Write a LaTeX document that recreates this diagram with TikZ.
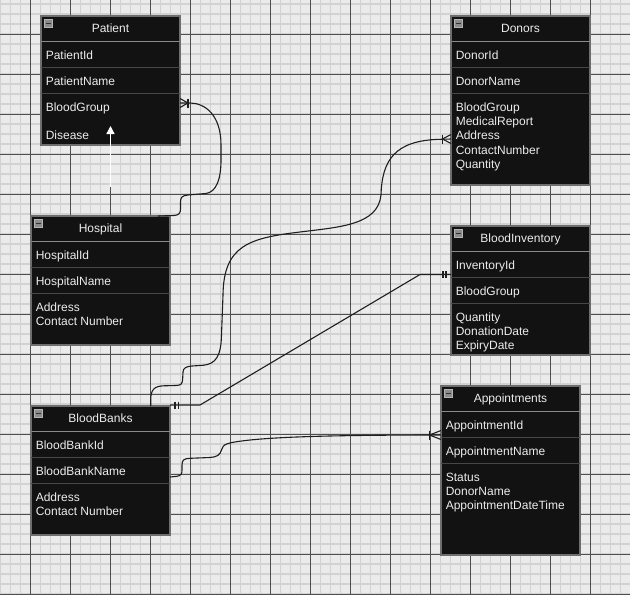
\documentclass[tikz,border=0pt]{standalone}
\usepackage{fontspec}
\setmainfont{Liberation Sans}
\usetikzlibrary{arrows.meta}
\definecolor{bgc}{HTML}{EBEBEB}
\definecolor{minorc}{HTML}{D2D2D2}
\definecolor{majorc}{HTML}{4F4F4F}
\definecolor{tblfill}{HTML}{121212}
\definecolor{tblborder}{HTML}{6E6E6E}
\definecolor{hdrc}{HTML}{8A8A8A}
\definecolor{rowc}{HTML}{474747}
\definecolor{txtc}{HTML}{ECECEC}
\definecolor{connc}{HTML}{1E1E1E}
\definecolor{minusfill}{HTML}{8C8C8C}
\definecolor{minusdraw}{HTML}{B4B4B4}
\tikzset{
  minorl/.style={draw=minorc, line width=1.4pt},
  majorl/.style={draw=majorc, line width=0.9pt},
  tbl/.style={rectangle, fill=tblfill, draw=tblborder, line width=1.1pt, minimum width=139pt, inner sep=0pt, outer sep=0pt},
  hdrsep/.style={draw=hdrc, line width=1pt},
  rowsep/.style={draw=rowc, line width=1pt},
  minusbox/.style={rectangle, fill=minusfill, draw=minusdraw, line width=0.8pt, minimum size=8.4pt, inner sep=0pt, outer sep=0pt},
  minusbar/.style={draw=black!80, line width=1.4pt},
  ttl/.style={anchor=base, inner sep=0pt, text=txtc, font=\fontsize{12}{14}\selectfont},
  fld/.style={anchor=base west, inner sep=0pt, text=txtc, font=\fontsize{12}{14}\selectfont},
  conn/.style={draw=connc, line width=1.1pt},
}
\newcommand\ertable[8]{%
  \node[tbl, minimum height=#4pt, anchor=north west] (#1) at (#2,#3) {};
  \draw[hdrsep] ([yshift=-25.7pt]#1.north west) -- ([yshift=-25.7pt]#1.north east);
  \draw[rowsep] ([yshift=-51.3pt]#1.north west) -- ([yshift=-51.3pt]#1.north east);
  \draw[rowsep] ([yshift=-77.7pt]#1.north west) -- ([yshift=-77.7pt]#1.north east);
  \node[minusbox] (#1-m) at ([xshift=7.4pt,yshift=-7.4pt]#1.north west) {};
  \draw[minusbar] ([xshift=-2.6pt]#1-m.center) -- ([xshift=2.6pt]#1-m.center);
  \node[ttl] (#1-t) at ([yshift=-16.5pt]#1.north) {#5};
  \node[fld] (#1-a) at ([xshift=4.6pt,yshift=-43.3pt]#1.north west) {#6};
  \node[fld] (#1-b) at ([xshift=4.6pt,yshift=-69.5pt]#1.north west) {#7};
  \foreach \s [count=\k from 0] in {#8} {%
    \pgfmathsetmacro\yy{95.5+14.2*\k}%
    \node[fld] (#1-c\k) at ([xshift=4.6pt,yshift=-\yy pt]#1.north west) {\s};
  }%
}
\begin{document}
\begin{tikzpicture}[x=1pt,y=-1pt]
\fill[bgc] (0,0) rectangle (630,595);
\useasboundingbox (0,0) rectangle (630,595);
% grid
\foreach \x in {0.7,10.7,...,630} \draw[minorl] (\x,0) -- (\x,595);
\foreach \y in {4,14,...,595} \draw[minorl] (0,\y) -- (630,\y);
\foreach \x in {30.7,70.7,...,630} \draw[majorl] (\x,0) -- (\x,595);
\foreach \y in {34,74,...,595} \draw[majorl] (0,\y) -- (630,\y);

% tables
\ertable{patient}{41}{16}{129}{Patient}{PatientId}{PatientName}{BloodGroup}
\node[fld] (patient-d) at ([xshift=4.6pt,yshift=-123.9pt]patient.north west) {Disease};
\ertable{donors}{451}{16}{169}{Donors}{DonorId}{DonorName}{BloodGroup,MedicalReport,Address,ContactNumber,Quantity}
\ertable{hospital}{31}{216}{129}{Hospital}{HospitalId}{HospitalName}{Address,Contact Number}
\ertable{inventory}{451}{226}{129}{BloodInventory}{InventoryId}{BloodGroup}{Quantity,DonationDate,ExpiryDate}
\ertable{bloodbanks}{31}{406}{129}{BloodBanks}{BloodBankId}{BloodBankName}{Address,Contact Number}
\ertable{appointments}{441}{386}{169}{Appointments}{AppointmentId}{AppointmentName}{Status,DonorName,AppointmentDateTime}

% end coordinates
\coordinate (pE) at ([yshift=-87pt]patient.north east);
\coordinate (hS) at ([xshift=-12pt]hospital.north east);
\coordinate (bbN) at ([xshift=-19.3pt]bloodbanks.north east);
\coordinate (dE) at ([yshift=-123pt]donors.north west);
\coordinate (bbNE) at ([yshift=1pt]bloodbanks.north east);
\coordinate (iE) at ([yshift=-48.5pt]inventory.north west);
\coordinate (bbE) at ([yshift=-6.5pt]bloodbanks.east);
\coordinate (aE) at ([yshift=-49pt]appointments.north west);
\coordinate (wS) at (110.5,187);

% white arrow
\draw[white, line width=1.3pt, -{Triangle[width=8pt,length=8pt]}] (wS) -- ([yshift=19pt]patient.south);

% Hospital -> Patient
\draw[conn] (hS) -- (174,215.5) .. controls (179,215.2) and (180.5,213) .. (180.5,209) -- (180.5,202)
  .. controls (180.5,197.5) and (182,195.5) .. (188,195) -- (206,193.5)
  .. controls (216,192) and (221,180) .. (221,160) -- (221,145)
  .. controls (221,115) and (205,103) .. (190,103) -- (pE);
\draw[conn] ([yshift=4.5pt]pE) -- ([xshift=8pt]pE) -- ([yshift=-4.5pt]pE);
\draw[conn] ([xshift=8pt,yshift=4.5pt]pE) -- ([xshift=8pt,yshift=-4.5pt]pE);

% BloodBanks -> Donors
\draw[conn] (bbN) -- (150.7,400) .. controls (150.7,390) and (154,386) .. (164,385.8) -- (176,385.5)
  .. controls (181,385.3) and (182.7,384) .. (182.7,378) -- (183,372)
  .. controls (183.3,368) and (186,366.5) .. (192,366) -- (203,365.3)
  .. controls (216,364) and (221,356) .. (221.5,335) -- (223,295)
  .. controls (223.5,245) and (250,238) .. (300,232)
  .. controls (340,227) and (378,225) .. (381,195)
  .. controls (382,160) and (395,140) .. (441,139.3) -- (dE);
\draw[conn] ([yshift=4.5pt]dE) -- ([xshift=-8.5pt]dE) -- ([yshift=-4.5pt]dE);
\draw[conn] ([xshift=-8.5pt,yshift=4.5pt]dE) -- ([xshift=-8.5pt,yshift=-4.5pt]dE);

% BloodBanks -> BloodInventory
\draw[conn] (bbNE) -- (200,405) -- (420,274.5) -- (iE);
\draw[conn] ([xshift=5pt,yshift=3.5pt]bbNE) -- ([xshift=5pt,yshift=-3.5pt]bbNE);
\draw[conn] ([xshift=8.3pt,yshift=3.5pt]bbNE) -- ([xshift=8.3pt,yshift=-3.5pt]bbNE);
\draw[conn] ([xshift=-5pt,yshift=3.5pt]iE) -- ([xshift=-5pt,yshift=-3.5pt]iE);
\draw[conn] ([xshift=-8pt,yshift=3.5pt]iE) -- ([xshift=-8pt,yshift=-3.5pt]iE);

% BloodBanks -> Appointments
\draw[conn] (bbE) -- (177,476.3) .. controls (181,475.5) and (182,474) .. (182,470) -- (182,465)
  .. controls (182,460) and (184,458.5) .. (190,458.3) -- (210,457.5)
  .. controls (217,457) and (220,455) .. (221.5,450)
  .. controls (223,444) and (226,442.7) .. (250,440)
  .. controls (280,437) and (330,435) .. (aE);
\draw[conn] ([yshift=4.5pt]aE) -- ([xshift=-11.5pt]aE) -- ([yshift=-4.5pt]aE);
\draw[conn] ([xshift=-11.5pt,yshift=4.5pt]aE) -- ([xshift=-11.5pt,yshift=-4.5pt]aE);
\end{tikzpicture}
\end{document}
